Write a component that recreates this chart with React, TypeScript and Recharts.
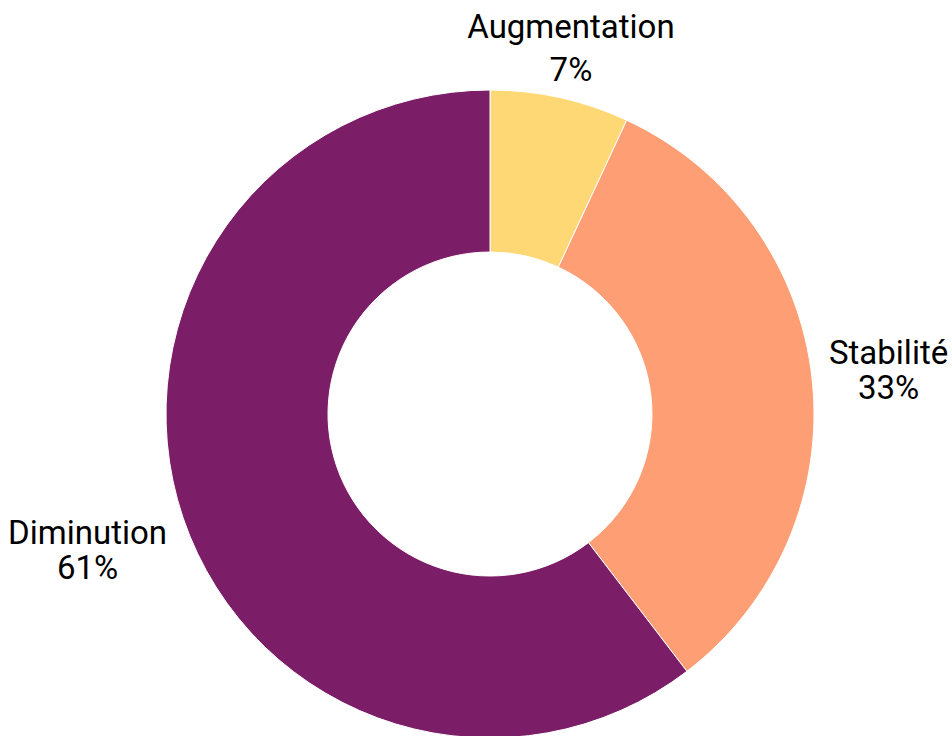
import React from 'react';
import { PieChart, Pie, Cell } from 'recharts';

const categories = ['Augmentation', 'Stabilité', 'Diminution'];
const values = [7, 33, 61];
const colors = ['#FED875', '#FE9E74', '#7B1E67'];

const data = categories.map((name, i) => ({ name, value: values[i] }));

const FONT_SIZE = 33;
const CAP = 23;
const RAD = Math.PI / 180;

let ctx: CanvasRenderingContext2D | null = null;
function measure(text: string): number {
  try {
    if (!ctx) {
      const c = document.createElement('canvas');
      ctx = c.getContext('2d');
    }
    if (ctx) {
      ctx.font = `${FONT_SIZE}px Roboto`;
      return ctx.measureText(text).width;
    }
  } catch (e) {
    /* ignore */
  }
  return text.length * FONT_SIZE * 0.55;
}

const renderLabel = (props: any) => {
  const { cx, cy, midAngle, outerRadius, name, value } = props;
  const dx = Math.cos(-midAngle * RAD);
  const dy = Math.sin(-midAngle * RAD);
  const pct = `${value}%`;
  const spacing = Math.abs(dy) > 0.9 ? 43 : 35;
  const halfW = Math.max(measure(name), measure(pct)) / 2;
  const halfH = (CAP + spacing) / 2;
  const t = Math.min(
    Math.abs(dx) > 1e-6 ? halfW / Math.abs(dx) : Infinity,
    Math.abs(dy) > 1e-6 ? halfH / Math.abs(dy) : Infinity
  );
  const r = outerRadius + 17 + t;
  const x = cx + r * dx;
  const yc = cy + r * dy;
  const b1 = yc + CAP / 2 - spacing / 2;
  return (
    <text
      textAnchor="middle"
      fontFamily="Roboto"
      fontSize={FONT_SIZE}
      fill="#000"
    >
      <tspan x={x} y={b1}>{name}</tspan>
      <tspan x={x} y={b1 + spacing}>{pct}</tspan>
    </text>
  );
};

export default function App() {
  return (
    <div style={{ width: 952, height: 736, overflow: 'hidden' }}>
      <style>{'html,body{margin:0;padding:0;overflow:hidden;}'}</style>
      <PieChart
        width={952}
        height={736}
        margin={{ top: 0, right: 0, bottom: 0, left: 0 }}
      >
        <Pie
          data={data}
          dataKey="value"
          nameKey="name"
          cx={490}
          cy={414}
          innerRadius={162}
          outerRadius={324}
          startAngle={90}
          endAngle={-270}
          stroke="#fff"
          strokeWidth={1}
          label={renderLabel}
          labelLine={false}
          isAnimationActive={false}
        >
          {data.map((d, i) => (
            <Cell key={d.name} fill={colors[i]} />
          ))}
        </Pie>
      </PieChart>
    </div>
  );
}
